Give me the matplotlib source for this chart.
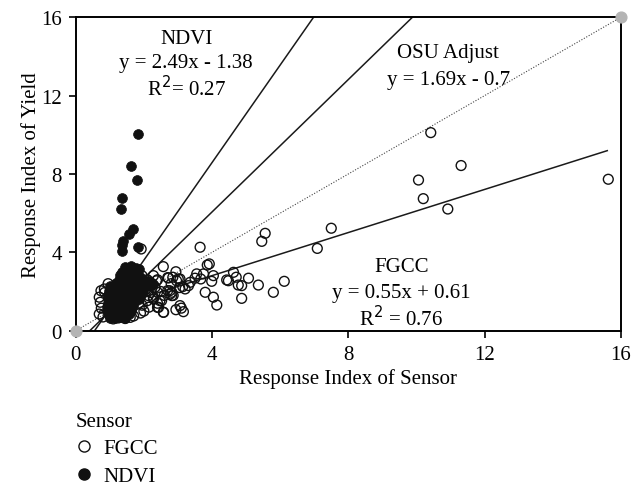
import matplotlib
matplotlib.use("Agg")
import matplotlib.pyplot as plt
from matplotlib.lines import Line2D
import numpy as np

plt.rcParams["font.family"] = ["Liberation Serif", "DejaVu Serif"]

# ── Data ──────────────────────────────────────────────────────────────────────
fgcc_x = [10.42, 11.31, 10.06, 10.20, 10.92, 15.63, 7.50, 7.09, 5.56, 5.46,
          3.65, 1.92, 6.12, 5.80, 5.36, 5.07, 4.87, 4.77, 4.87, 4.71,
          4.63, 4.43, 4.48, 4.14, 4.04, 3.80, 4.04, 3.99, 3.92, 3.86,
          3.75, 3.67, 3.55, 3.50, 3.36, 3.31, 3.21, 3.14, 3.05, 2.96,
          2.85, 2.94, 2.82, 2.86, 2.94, 3.16, 3.06, 3.10, 2.57, 2.72,
          3.01, 2.80, 2.33, 2.25, 2.13, 2.28, 2.47, 2.60, 2.57, 2.77,
          2.70, 2.40, 2.20, 2.50, 2.40, 2.10, 2.20, 2.58, 2.40, 2.28,
          2.10, 2.40, 2.52, 2.22, 2.04, 2.70, 2.82, 2.76, 3.06, 2.28,
          0.74, 0.69, 0.72, 0.69, 0.75, 0.80, 0.85, 0.84, 1.25, 1.45,
          1.60, 1.10, 1.70, 1.95, 2.00, 1.90, 2.05, 1.95, 2.15, 2.37,
          2.43, 2.08, 1.40, 1.20, 1.55, 1.00, 0.95, 1.30, 1.75, 1.85]
fgcc_y = [10.11, 8.43, 7.69, 6.74, 6.21, 7.73, 5.23, 4.20, 4.97, 4.56,
          4.26, 4.17, 2.52, 1.96, 2.33, 2.68, 2.30, 2.33, 1.65, 2.73,
          2.98, 2.59, 2.55, 1.31, 1.71, 1.96, 2.81, 2.52, 3.41, 3.35,
          2.90, 2.64, 2.90, 2.68, 2.47, 2.30, 2.13, 2.25, 2.20, 2.55,
          2.73, 3.01, 1.96, 1.80, 1.07, 0.97, 1.28, 1.15, 3.27, 2.69,
          2.64, 2.40, 2.22, 2.35, 1.79, 1.71, 1.53, 1.80, 0.94, 1.87,
          2.05, 1.40, 1.95, 2.00, 2.60, 2.60, 2.45, 0.94, 1.19, 1.62,
          1.53, 1.96, 1.53, 2.30, 2.47, 2.71, 1.79, 2.04, 2.64, 2.81,
          2.04, 1.71, 1.45, 0.85, 1.15, 0.70, 1.95, 2.13, 0.65, 0.62,
          0.68, 0.60, 0.75, 1.30, 1.00, 0.90, 2.10, 2.80, 1.20, 2.55,
          1.19, 2.30, 1.00, 1.30, 1.60, 1.80, 2.40, 2.00, 2.20, 1.40]

ndvi_x = [1.82, 1.62, 1.80, 1.36, 1.32, 1.68, 1.57, 1.38, 1.37, 1.35, 1.84,
          1.45, 1.62, 1.76, 1.86, 1.36, 1.51, 1.66, 1.80, 1.30, 1.46, 1.61,
          1.75, 1.90, 1.28, 1.44, 1.59, 1.74, 1.89, 2.04, 1.18, 1.34, 1.49,
          1.66, 1.81, 1.96, 2.16, 2.28, 1.02, 1.12, 1.26, 1.41, 1.56, 1.71,
          1.86, 2.01, 0.98, 1.06, 1.21, 1.36, 1.50, 1.66, 1.81, 1.96, 0.96,
          1.14, 1.30, 1.45, 1.61, 1.76, 1.92, 0.94, 1.10, 1.25, 1.40, 1.56,
          1.71, 1.86, 0.95, 1.09, 1.26, 1.41, 1.55, 1.70, 0.92, 1.06, 1.21,
          1.36, 1.51, 1.66, 0.93, 1.04, 1.19, 1.35, 1.50, 1.62, 0.97, 1.11,
          1.26, 1.41, 1.55, 1.02, 1.16, 1.31, 1.46]
ndvi_y = [10.05, 8.39, 7.70, 6.76, 6.21, 5.19, 4.94, 4.60, 4.35, 4.09, 4.26,
          3.25, 3.30, 3.22, 3.15, 3.02, 3.05, 2.98, 3.00, 2.82, 2.78, 2.85,
          2.80, 2.76, 2.60, 2.62, 2.58, 2.64, 2.60, 2.55, 2.42, 2.38, 2.44,
          2.40, 2.36, 2.42, 2.55, 2.38, 2.30, 2.20, 2.22, 2.18, 2.24, 2.20,
          2.16, 2.22, 2.02, 1.98, 2.04, 2.00, 1.96, 2.02, 1.98, 1.96, 1.80,
          1.82, 1.78, 1.84, 1.80, 1.76, 1.82, 1.60, 1.62, 1.58, 1.64, 1.60,
          1.56, 1.62, 1.42, 1.38, 1.44, 1.40, 1.36, 1.42, 1.22, 1.18, 1.24,
          1.20, 1.16, 1.22, 1.02, 0.98, 1.04, 1.00, 0.96, 1.02, 0.82, 0.78,
          0.84, 0.80, 0.86, 0.66, 0.64, 0.68, 0.66]

# regressielijnen: (helling, intercept)
ndvi_fit = (2.49, -1.38)
osu_fit = (1.69, -0.70)
fgcc_fit = (0.55, 0.61)

fig = plt.figure(figsize=(6.38, 4.89), dpi=100)
ax = fig.add_axes([0.1187, 0.3217, 0.8545, 0.641])

# 1:1 lijn
ax.plot([0, 16], [0, 16], color="#444444", lw=0.8, linestyle=(0, (1, 1.5)), zorder=1)
ax.scatter([0, 16], [0, 16], s=60, color="#b4b4b4", zorder=5, clip_on=False)

def fit_line(fit, x0, x1):
    xs = np.array([x0, x1])
    ax.plot(xs, fit[0] * xs + fit[1], color="#1a1a1a", lw=1.1, zorder=2)

fit_line(ndvi_fit, -ndvi_fit[1] / ndvi_fit[0], (16 - ndvi_fit[1]) / ndvi_fit[0])
fit_line(osu_fit, -osu_fit[1] / osu_fit[0], (16 - osu_fit[1]) / osu_fit[0])
fit_line(fgcc_fit, 0.7, 15.6)

ax.scatter(fgcc_x, fgcc_y, s=50, facecolors="none", edgecolors="#111111",
           linewidths=1.0, zorder=3)
ax.scatter(ndvi_x, ndvi_y, s=50, color="#111111", linewidths=0.5, zorder=4)

fs = 15
ax.text(3.24, 14.9, "NDVI", ha="center", va="center", fontsize=fs)
ax.text(3.24, 13.68, "y = 2.49x - 1.38", ha="center", va="center", fontsize=fs)
ax.text(3.24, 12.4, "R$^2$= 0.27", ha="center", va="center", fontsize=fs)
ax.text(10.93, 14.2, "OSU Adjust", ha="center", va="center", fontsize=fs)
ax.text(10.93, 12.84, "y = 1.69x - 0.7", ha="center", va="center", fontsize=fs)
ax.text(9.55, 3.30, "FGCC", ha="center", va="center", fontsize=fs)
ax.text(9.55, 1.93, "y = 0.55x + 0.61", ha="center", va="center", fontsize=fs)
ax.text(9.55, 0.69, "R$^2$ = 0.76", ha="center", va="center", fontsize=fs)

ax.set_xlim(0, 16)
ax.set_ylim(0, 16)
ax.set_xticks([0, 4, 8, 12, 16])
ax.set_yticks([0, 4, 8, 12, 16])
ax.tick_params(labelsize=fs, direction="out", length=5, width=1.2, pad=5)
for sp in ax.spines.values():
    sp.set_linewidth(1.4)
ax.set_xlabel("Response Index of Sensor", fontsize=fs, labelpad=3)
ax.set_ylabel("Response Index of Yield", fontsize=fs, labelpad=0)

handles = [
    Line2D([], [], marker="o", linestyle="none", markersize=8,
           markerfacecolor="none", markeredgecolor="#111111", markeredgewidth=1.0),
    Line2D([], [], marker="o", linestyle="none", markersize=8,
           markerfacecolor="#111111", markeredgecolor="#111111"),
]
fig.legend(handles, ["FGCC", "NDVI"], title="Sensor", loc="upper left",
           bbox_to_anchor=(76 / 638, 1 - 413 / 489), frameon=False,
           fontsize=fs, title_fontsize=fs, alignment="left", borderpad=0,
           borderaxespad=0, handletextpad=0.5, handlelength=0.8,
           labelspacing=0.38)

fig.savefig("out.png", dpi=100)
